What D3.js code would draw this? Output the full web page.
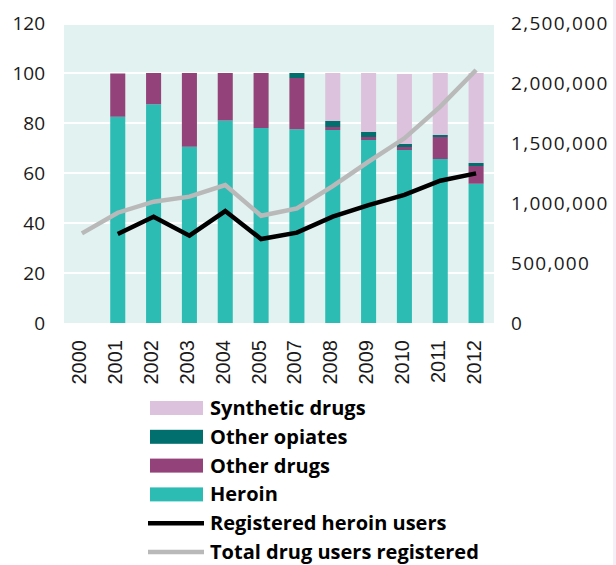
<!DOCTYPE html>
<html><head><meta charset="utf-8">
<script src="https://cdn.jsdelivr.net/npm/d3@7"></script>
<style>body{margin:0;background:#fff}svg{display:block}</style>
</head><body>
<svg id="c" width="616" height="565"></svg>
<script>
const years = ["2000","2001","2002","2003","2004","2005","2007","2008","2009","2010","2011","2012"];
const heroin     = [null,82.5,87.5,70.5,81,78,77.5,77.2,73.2,69.2,65.6,55.7];
const otherDrugs = [null,17.3,12.5,29.5,19,22,20.5,1.2,1.2,1.2,8.8,7.1];
const otherOpiates=[null,0,0,0,0,0,2,2.4,2,1.2,0.8,1.2];
const synthetic  = [null,0,0,0,0,0,0,19.2,23.6,28,24.8,36];
const registeredHeroin = [null,742000,886000,728000,933000,700000,753000,886000,983000,1067000,1186000,1247000];
const totalUsers = [747000,919000,1011000,1053000,1150000,894000,955000,1140000,1344000,1539000,1803000,2108000];
const leftTicks = [0,20,40,60,80,100,120];
const rightTicks = [0,500000,1000000,1500000,2000000,2500000];

const svg = d3.select("#c");
const L=64, R=494, T=23, B=323;
const x = d3.scaleBand().domain(years).range([L,R]).paddingInner(0.58).paddingOuter(0.29);
const y = d3.scaleLinear().domain([0,120]).range([B,T]);
const y2 = d3.scaleLinear().domain([0,2500000]).range([B,T]);

svg.append("rect").attr("x",613).attr("y",0).attr("width",3).attr("height",565).attr("fill","#f6eef6");
svg.append("rect").attr("x",L).attr("y",T+2).attr("width",R-L).attr("height",B-T-2).attr("fill","#e2f2f0");
svg.append("g").selectAll("line").data(leftTicks.filter(d=>d>0&&d<120)).join("line")
  .attr("x1",L).attr("x2",R).attr("y1",d=>y(d)).attr("y2",d=>y(d))
  .attr("stroke","#fff").attr("stroke-width",2);

const keys=["heroin","otherDrugs","otherOpiates","synthetic"];
const colors={heroin:"#2dbcb4",otherDrugs:"#934379",otherOpiates:"#006f6e",synthetic:"#dcc2dc"};
const rows = years.map((yr,i)=>({year:yr,heroin:heroin[i]||0,otherDrugs:otherDrugs[i]||0,otherOpiates:otherOpiates[i]||0,synthetic:synthetic[i]||0}));
const stack = d3.stack().keys(keys)(rows);
svg.append("g").selectAll("g").data(stack).join("g").attr("fill",d=>colors[d.key])
  .selectAll("rect").data(d=>d.filter(p=>p[1]-p[0]>0)).join("rect")
  .attr("x",d=>x(d.data.year)).attr("width",x.bandwidth())
  .attr("y",d=>y(d[1])).attr("height",d=>y(d[0])-y(d[1]));

const cx = d=>x(d)+x.bandwidth()/2;
const line = d3.line().defined(d=>d[1]!=null).x(d=>cx(d[0])).y(d=>y2(d[1]));
svg.append("path").datum(years.map((yr,i)=>[yr,totalUsers[i]])).attr("d",line)
  .attr("fill","none").attr("stroke","#b9b9b9").attr("stroke-width",4.5);
svg.append("path").datum(years.map((yr,i)=>[yr,registeredHeroin[i]])).attr("d",line)
  .attr("fill","none").attr("stroke","#000").attr("stroke-width",4.5);

const font = "'Open Sans', 'Noto Sans', sans-serif";
svg.append("g").selectAll("text").data(leftTicks).join("text")
  .attr("x",45).attr("y",d=>y(d)).attr("dy","0.35em").attr("text-anchor","end")
  .attr("font-family",font).attr("font-size",19).attr("fill","#1a1a1a").text(d=>d);
svg.append("g").selectAll("text").data(rightTicks).join("text")
  .attr("x",511).attr("y",d=>y2(d)).attr("dy","0.35em").attr("text-anchor","start")
  .attr("font-family",font).attr("font-size",19).attr("letter-spacing",1.3).attr("fill","#1a1a1a").text(d=>d3.format(",")(d));
svg.append("g").selectAll("text").data(years).join("text")
  .attr("transform",d=>`translate(${cx(d)+4.5},340) rotate(-90)`).attr("text-anchor","end")
  .attr("font-family","'Liberation Sans', Arial, sans-serif").attr("font-size",20).attr("fill","#1a1a1a").text(d=>d);

const legend = [
  {label:"Synthetic drugs",type:"rect",color:colors.synthetic},
  {label:"Other opiates",type:"rect",color:colors.otherOpiates},
  {label:"Other drugs",type:"rect",color:colors.otherDrugs},
  {label:"Heroin",type:"rect",color:colors.heroin},
  {label:"Registered heroin users",type:"line",color:"#000"},
  {label:"Total drug users registered",type:"line",color:"#b9b9b9"}
];
const lg = svg.append("g").selectAll("g").data(legend).join("g").attr("transform",(d,i)=>`translate(0,${408+i*28.8})`);
lg.filter(d=>d.type==="rect").append("rect").attr("x",150).attr("y",-7).attr("width",53).attr("height",14).attr("fill",d=>d.color);
lg.filter(d=>d.type==="line").append("line").attr("x1",148).attr("x2",204).attr("y1",0).attr("y2",0).attr("stroke",d=>d.color).attr("stroke-width",4.5);
lg.append("text").attr("x",210).attr("dy","0.35em").attr("font-family",font).attr("font-weight","bold").attr("font-size",20).attr("fill","#000").text(d=>d.label);
</script>
</body></html>
